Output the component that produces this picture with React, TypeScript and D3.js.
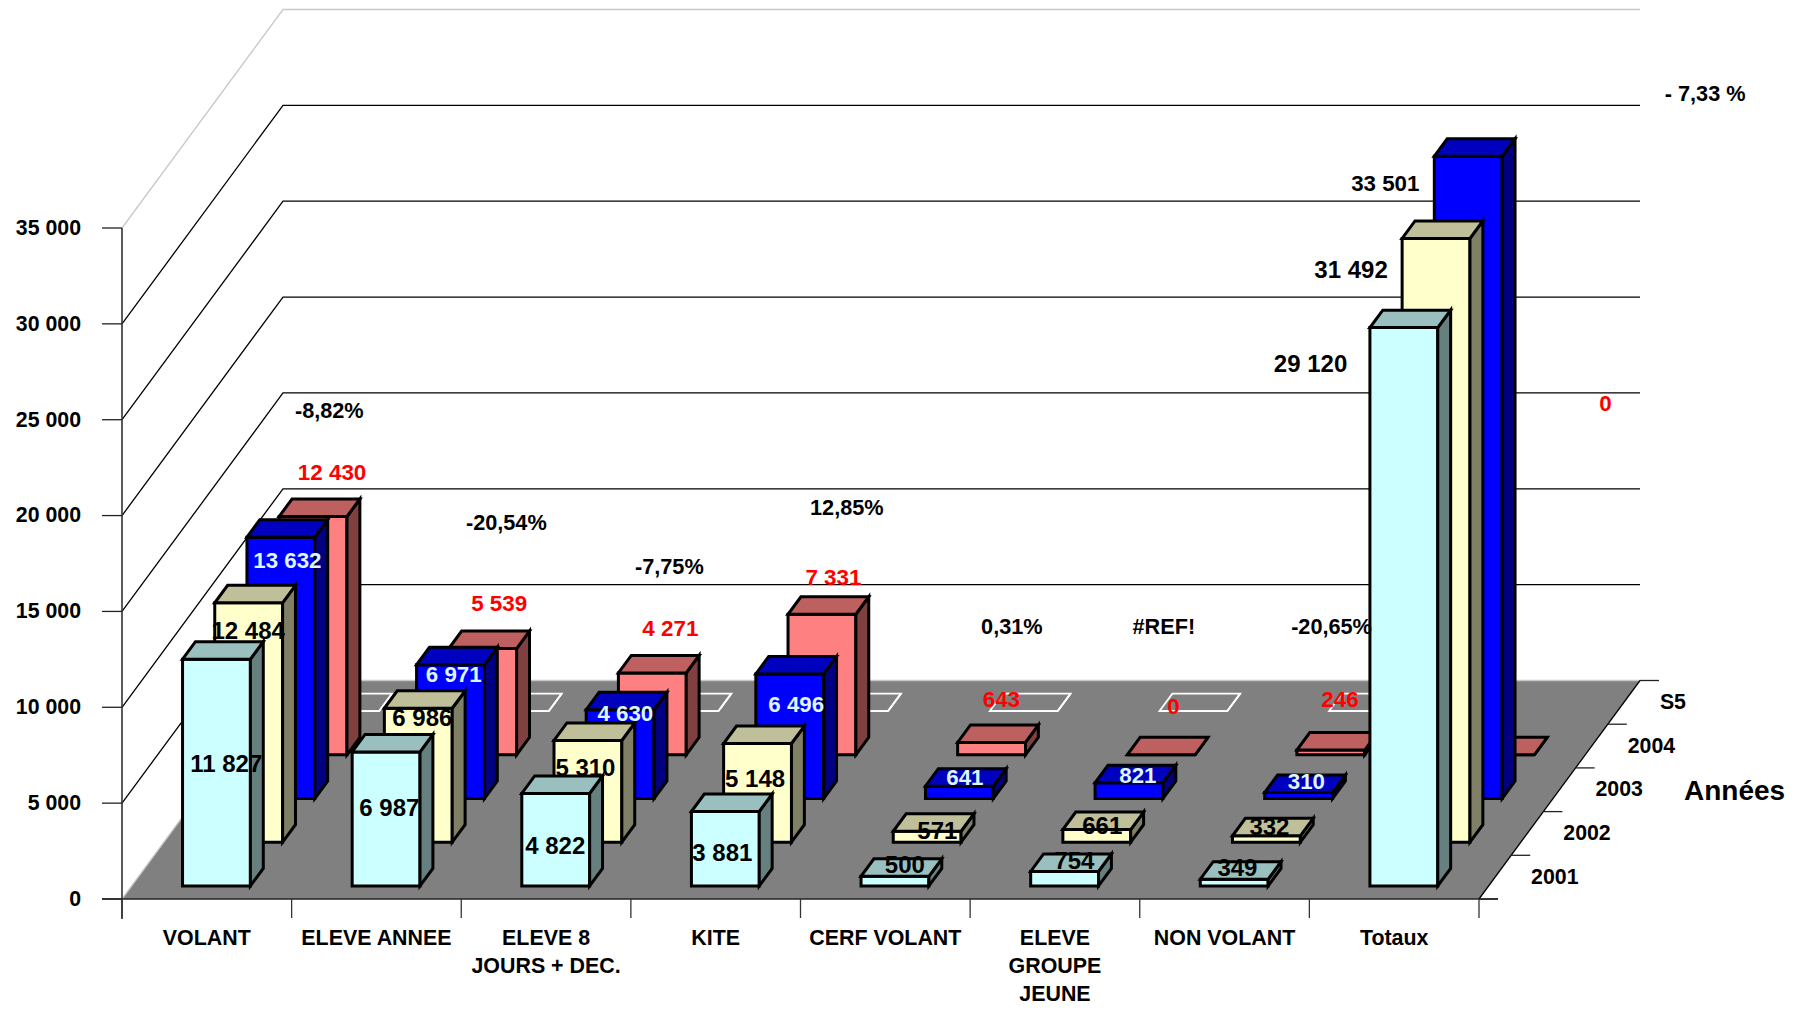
import React from "react";
import * as d3 from "d3";

const categories = [["VOLANT"], ["ELEVE ANNEE"], ["ELEVE 8", "JOURS + DEC."], ["KITE"], ["CERF VOLANT"], ["ELEVE", "GROUPE", "JEUNE"], ["NON VOLANT"], ["Totaux"]];
const seriesNames = ["2001", "2002", "2003", "2004", "S5"];
const s2001 = [11827, 6987, 4822, 3881, 500, 754, 349, 29120];
const s2002 = [12484, 6986, 5310, 5148, 571, 661, 332, 31492];
const s2003 = [13632, 6971, 4630, 6496, 641, 821, 310, 33501];
const s2004 = [12430, 5539, 4271, 7331, 643, 0, 246, 0];
const sS5: (number | null)[] = [0, 0, 0, 0, 0, 0, 0, null];
const pctLabels = ["-8,82%", "-20,54%", "-7,75%", "12,85%", "0,31%", "#REF!", "-20,65%", "- 7,33 %"];
const yTicks = [0, 5000, 10000, 15000, 20000, 25000, 30000, 35000];
const values = [s2001, s2002, s2003, s2004, sS5];

// label nudges as placed by hand in the original chart
const labelDx = [
  [9.8, 3.2, -0.5, -3, 9.9, 9.8, 3.2, -93.3],
  [-0.5, 4, -2.5, -2.5, 10.2, 5.5, 3, -85],
  [6.5, 3.2, 5.2, 6.5, 5.5, 8.9, 7.8, -83],
  [19, 16.5, 18, 11.5, 9.8, 12.2, 9.1, 105],
  [-16, -8.6, -15.2, -7.3, -11.9, -29.5, -31.5, 172.5],
];
const labelDy = [
  [105.5, 56.4, 52.8, 41.8, -10.8, -10.4, -10.7, 36.2],
  [28.6, 9.8, 28.2, 35.8, -0.2, -3, -8.4, 32.2],
  [22.8, 9.5, 3.7, 30.5, -9.5, -7.5, -11.2, 27.2],
  [-44.6, -45.7, -45, -37.4, -43.6, -49, -51, -352],
  [-301, -189, -145, -204, -85, -85, -85, -618],
];

const front = ["#CCFFFF", "#FFFFCC", "#0000FF", "#FF8080", "none"];
const topC = ["#99BFBF", "#BFBF99", "#0000BF", "#BF6060", "none"];
const sideC = ["#668080", "#808066", "#000080", "#804040", "none"];
const labelC = ["#000", "#000", "#DDF6FF", "#FF0000", "#000"];
const labelSize = [24, 24, 22.3, 22.4, 21.7];

const FONT = "'Liberation Sans', Arial, sans-serif";
const x0 = 122, y0 = 899;
const xCat = d3.scaleLinear().domain([0, 8]).range([x0, 1479]);
const yVal = d3.scaleLinear().domain([0, 35000]).range([0, 671]);
const depthX = d3.scaleLinear().domain([0, 5]).range([0, 161]);
const depthY = d3.scaleLinear().domain([0, 5]).range([0, 218.5]);
const fmt = d3.formatLocale({ decimal: ",", thousands: " ", grouping: [3], currency: ["", ""] }).format(",d");

const P = (c: number, d: number, v: number) => [xCat(c) + depthX(d), y0 - depthY(d) - yVal(v)];
const poly = (pts: number[][]) => pts.map((p) => p.join(",")).join(" ");

const GAP = 0.3, BAR = 0.4, DEPTH = 0.4;

function Bar({ c, s, v }: { c: number; s: number; v: number }) {
  const l = c + GAP, r = l + BAR;
  const d1 = s + GAP, d2 = d1 + DEPTH;
  const sw = s === 4 ? 1.8 : 3;
  const stroke = s === 4 ? "#fff" : "#000";
  return (
    <g stroke={stroke} strokeWidth={sw} strokeLinejoin="miter">
      <polygon fill={front[s]} points={poly([P(l, d1, 0), P(r, d1, 0), P(r, d1, v), P(l, d1, v)])} />
      <polygon fill={sideC[s]} points={poly([P(r, d1, 0), P(r, d2, 0), P(r, d2, v), P(r, d1, v)])} />
      <polygon fill={topC[s]} points={poly([P(l, d1, v), P(r, d1, v), P(r, d2, v), P(l, d2, v)])} />
    </g>
  );
}

export default function App() {
  const depths = d3.range(5);
  const cats = d3.range(8);
  return (
    <div style={{ position: "fixed", left: 0, top: 0 }}>
      <svg width={1809} height={1010} style={{ display: "block", background: "#fff" }} fontFamily={FONT} fontWeight="bold">
        {/* floor */}
        <polygon fill="#808080" points={poly([P(0, 0, 0), P(8, 0, 0), P(8, 5, 0), P(0, 5, 0)])} />
        {/* gridlines */}
        {yTicks.map((t, i) => {
          const col = i === yTicks.length - 1 || i === 0 ? "#C8C8C8" : "#000";
          const a = P(0, 0, t), b = P(0, 5, t), e = P(8, 5, t);
          return <polyline key={t} fill="none" stroke={col} strokeWidth={1.3} points={poly([a, b, e])} />;
        })}
        {/* axes */}
        <line x1={x0} x2={x0} y1={P(0, 0, 35000)[1]} y2={y0 + 20} stroke="#333" strokeWidth={1.6} />
        <line x1={x0 - 20} x2={P(8, 0, 0)[0] + 19} y1={y0} y2={y0} stroke="#222" strokeWidth={1.3} />
        <line x1={P(8, 0, 0)[0]} y1={y0} x2={P(8, 5, 0)[0]} y2={P(8, 5, 0)[1]} stroke="#000" strokeWidth={1.3} />
        {yTicks.map((t) => (
          <g key={t}>
            <line x1={x0 - 20} x2={x0} y1={P(0, 0, t)[1]} y2={P(0, 0, t)[1]} stroke="#222" strokeWidth={1.3} />
            <text x={81} y={P(0, 0, t)[1] + 6.8} textAnchor="end" fontSize={21.3}>{fmt(t)}</text>
          </g>
        ))}
        {d3.range(9).map((c) => (
          <line key={c} x1={xCat(c)} x2={xCat(c)} y1={y0} y2={y0 + 19} stroke="#333" strokeWidth={1.3} />
        ))}
        {d3.range(6).map((d) => {
          const p = P(8, d, 0);
          return <line key={d} x1={p[0]} x2={p[0] + 19} y1={p[1]} y2={p[1]} stroke="#222" strokeWidth={1.3} />;
        })}
        {/* bars back to front */}
        {depths.slice().reverse().map((s) => (
          <g key={s}>
            {cats.map((c) => (values[s][c] === null ? null : <Bar key={c} c={c} s={s} v={values[s][c] as number} />))}
          </g>
        ))}
        {/* category labels */}
        {categories.map((lines, c) => (
          <text key={c} x={xCat(c + 0.5)} textAnchor="middle" fontSize={21.4}>
            {lines.map((ln, j) => <tspan key={j} x={xCat(c + 0.5)} y={944.5 + j * 28}>{ln}</tspan>)}
          </text>
        ))}
        {/* series labels */}
        {seriesNames.map((n, s) => {
          const p = P(8, s + 0.5, 0);
          return <text key={n} x={p[0] + 36} y={p[1] + 6.6} fontSize={21.3}>{n}</text>;
        })}
        <text x={1684} y={800} fontSize={28}>Années</text>
        {/* data labels */}
        {depths.map((s) =>
          cats.map((c) => {
            const v = values[s][c] ?? 0;
            const a = P(c + GAP + BAR / 2, s + GAP, v);
            const txt = s === 4 ? pctLabels[c] : fmt(v);
            const fill = s === 2 && c === 7 ? "#000" : labelC[s];
            return (
              <text key={c} x={a[0] + labelDx[s][c]} y={a[1] + labelDy[s][c] + 7.8} textAnchor="middle" fontSize={labelSize[s]} fill={fill}>
                {txt}
              </text>
            );
          })
        )}
      </svg>
    </div>
  );
}
